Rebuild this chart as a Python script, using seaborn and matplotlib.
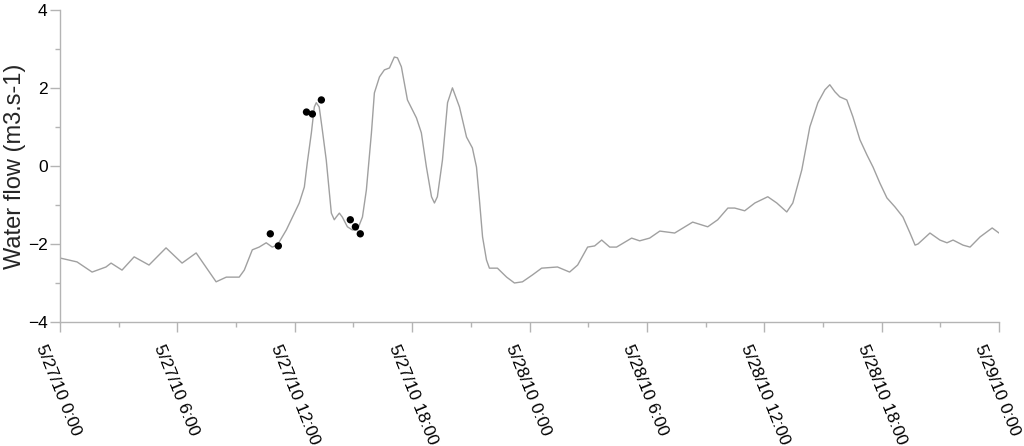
import matplotlib
matplotlib.use("Agg")
import matplotlib.pyplot as plt
import matplotlib.dates as mdates
import matplotlib.transforms as mtransforms
from matplotlib.ticker import FuncFormatter, MultipleLocator
import pandas as pd
import seaborn as sns

# ─── Data (hours since 5/27/10 0:00) ──────────────────────────────────────────

flow_hours = [
    0.0, 0.87, 1.64, 2.35, 2.61, 3.17, 3.79, 4.55, 5.42, 6.24, 6.96, 7.98,
    8.50, 9.16, 9.42, 9.83, 10.18, 10.54, 10.85, 11.11, 11.57, 12.23, 12.49,
    12.64, 12.85, 13.0, 13.1, 13.25, 13.41, 13.61, 13.87, 14.02, 14.12, 14.28,
    14.43, 14.69, 14.94, 15.2, 15.46, 15.66, 15.92, 16.07, 16.33, 16.58, 16.84,
    17.09, 17.25, 17.45, 17.76, 18.22, 18.47, 18.73, 18.99, 19.14, 19.29,
    19.55, 19.81, 20.06, 20.42, 20.78, 21.08, 21.29, 21.44, 21.6, 21.8, 21.95,
    22.36, 22.83, 23.23, 23.64, 24.16, 24.62, 25.43, 26.05, 26.46, 26.97,
    27.33, 27.69, 28.1, 28.45, 29.22, 29.63, 30.14, 30.66, 31.42, 32.34,
    33.11, 33.62, 34.14, 34.49, 35.0, 35.52, 36.18, 36.64, 37.15, 37.46,
    37.92, 38.33, 38.74, 39.1, 39.35, 39.61, 39.86, 40.22, 40.53, 40.89,
    41.25, 41.56, 41.91, 42.27, 42.68, 43.09, 43.45, 43.71, 43.86, 44.47,
    44.98, 45.34, 45.65, 46.16, 46.52, 47.03, 47.65, 48.0,
]
flow_values = [
    -2.36, -2.46, -2.72, -2.59, -2.49, -2.67, -2.33, -2.54, -2.10, -2.49,
    -2.23, -2.97, -2.85, -2.85, -2.67, -2.15, -2.08, -1.97, -2.08, -2.03,
    -1.64, -0.95, -0.54, 0.08, 0.85, 1.51, 1.62, 1.51, 0.92, 0.15, -1.21,
    -1.38, -1.31, -1.21, -1.31, -1.56, -1.64, -1.64, -1.31, -0.62, 0.85,
    1.87, 2.28, 2.46, 2.51, 2.79, 2.77, 2.54, 1.69, 1.23, 0.85, -0.03,
    -0.79, -0.95, -0.79, 0.15, 1.62, 2.0, 1.51, 0.74, 0.46, -0.03, -0.87,
    -1.82, -2.41, -2.62, -2.62, -2.85, -3.0, -2.97, -2.79, -2.62, -2.59,
    -2.72, -2.54, -2.08, -2.05, -1.90, -2.08, -2.08, -1.85, -1.92, -1.85,
    -1.67, -1.72, -1.44, -1.56, -1.38, -1.08, -1.08, -1.15, -0.95, -0.79,
    -0.95, -1.18, -0.95, -0.10, 1.0, 1.62, 1.95, 2.08, 1.90, 1.77, 1.69,
    1.26, 0.67, 0.28, -0.03, -0.44, -0.82, -1.05, -1.31, -1.72, -2.03,
    -2.0, -1.72, -1.90, -1.97, -1.90, -2.03, -2.08, -1.82, -1.59, -1.72,
]

sample_hours = [10.75, 11.16, 12.6, 12.9, 13.36, 14.84, 15.1, 15.35]
sample_values = [-1.74, -2.05, 1.38, 1.33, 1.69, -1.38, -1.56, -1.74]

t0 = pd.Timestamp("2010-05-27 00:00")
flow = pd.DataFrame({
    "time": t0 + pd.to_timedelta(flow_hours, unit="h"),
    "flow": flow_values,
})
samples = pd.DataFrame({
    "time": t0 + pd.to_timedelta(sample_hours, unit="h"),
    "flow": sample_values,
})

# ─── Plot ─────────────────────────────────────────────────────────────────────

sns.set_style("ticks")
plt.rcParams["font.family"] = ["Liberation Sans", "DejaVu Sans"]

fig = plt.figure(figsize=(10.24, 4.46), dpi=100)
ax = fig.add_axes([0.0586, 0.278, 0.917, 0.700])

sns.lineplot(data=flow, x="time", y="flow", color="#a0a0a0",
             linewidth=1.0, ax=ax)
sns.scatterplot(data=samples, x="time", y="flow", color="black",
                s=28, edgecolor="none", zorder=3, ax=ax)

ax.set_xlim(t0, t0 + pd.Timedelta(hours=48))
ax.set_ylim(-4, 4)

ax.xaxis.set_major_locator(mdates.HourLocator(byhour=[0, 6, 12, 18]))
ax.xaxis.set_minor_locator(mdates.HourLocator(byhour=[3, 9, 15, 21]))


def fmt_date(x, pos):
    d = mdates.num2date(x)
    return f"{d.month}/{d.day}/{d.strftime('%y')} {d.hour}:{d.minute:02d}"


ax.xaxis.set_major_formatter(FuncFormatter(fmt_date))
ax.yaxis.set_major_locator(MultipleLocator(2))
ax.yaxis.set_minor_locator(MultipleLocator(1))

for side in ["top", "right"]:
    ax.spines[side].set_visible(False)
for side in ["left", "bottom"]:
    ax.spines[side].set_color("#b4b4b4")
    ax.spines[side].set_linewidth(1.0)

ax.tick_params(which="major", length=7, width=1.0, color="#b4b4b4",
               labelsize=12.5, labelcolor="black")
ax.tick_params(which="minor", length=3.5, width=1.0, color="#b4b4b4")
ax.tick_params(axis="y", which="major", pad=2)

# shift rotated date labels a bit left/down like the original
shift = mtransforms.ScaledTranslation(-9 / 72, -4 / 72, fig.dpi_scale_trans)
for lbl in ax.get_xticklabels():
    lbl.set_rotation(-68)
    lbl.set_rotation_mode("anchor")
    lbl.set_ha("left")
    lbl.set_va("top")
    lbl.set_transform(lbl.get_transform() + shift)

ax.set_xlabel("")
ax.set_ylabel("Water flow (m3.s-1)", fontsize=17)
ax.yaxis.set_label_coords(-0.036, 0.5)

plt.savefig("out.png", dpi=100)
plt.close()
